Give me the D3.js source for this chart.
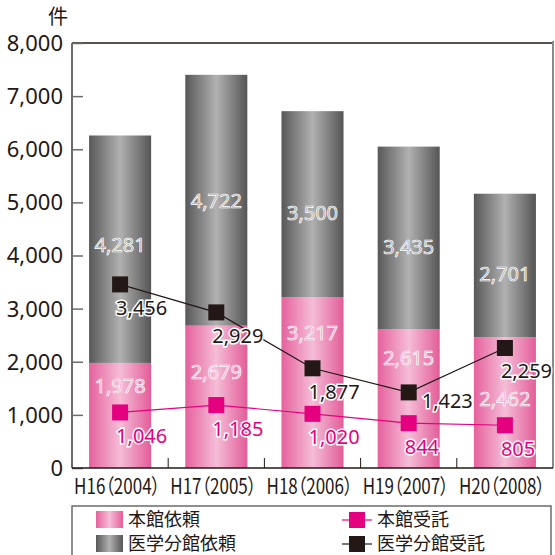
<!DOCTYPE html>
<html lang="ja">
<head>
  <meta charset="UTF-8">
  <title>依頼・受託件数</title>
  <script src="https://d3js.org/d3.v7.min.js"></script>
  <style>
    body { margin: 0; background: #fff; }
    text { font-family: "Noto Sans", "Noto Sans CJK JP", sans-serif; }
    .jp { font-family: "Noto Sans CJK JP", sans-serif; font-feature-settings: "palt"; }
  </style>
</head>
<body>
  <div id="chart"></div>

  <script>
  // data
  var categories = ["H16（2004）", "H17（2005）", "H18（2006）", "H19（2007）", "H20（2008）"];
  var honkanIrai = [1978, 2679, 3217, 2615, 2462];     // 本館依頼
  var igakuIrai = [4281, 4722, 3500, 3435, 2701];      // 医学分館依頼
  var honkanJutaku = [1046, 1185, 1020, 844, 805];     // 本館受託
  var igakuJutaku = [3456, 2929, 1877, 1423, 2259];    // 医学分館受託
  var yTicks = [0, 1000, 2000, 3000, 4000, 5000, 6000, 7000, 8000];

  // label nudges (px) so labels clear the lines
  var pinkShift = [-30, -25, -50, -41, -4];
  var grayShift = [-4, 1, 9, 9, 8];

  var w = 555, h = 555;
  var plotL = 72, plotR = 553, plotT = 43, plotB = 468;

  var pink = "#e4007f", black = "#231815";

  var svg = d3.select("#chart").append("svg")
    .attr("width", w)
    .attr("height", h);

  var defs = svg.append("defs");
  function grad(id, edgeL, mid, edgeR) {
    var g = defs.append("linearGradient").attr("id", id)
      .attr("x1", "0%").attr("x2", "100%").attr("y1", "0%").attr("y2", "0%");
    g.append("stop").attr("offset", "0%").attr("stop-color", edgeL);
    g.append("stop").attr("offset", "50%").attr("stop-color", mid);
    g.append("stop").attr("offset", "100%").attr("stop-color", edgeR);
  }
  grad("gPink", "#e5619d", "#f5bdd7", "#e35d99");
  grad("gGray", "#585858", "#b1b1b1", "#555555");

  var x = d3.scaleBand()
    .domain(categories)
    .range([plotL, plotR])
    .paddingInner(0.355)
    .paddingOuter(0.1775);

  var y = d3.scaleLinear()
    .domain([0, 8000])
    .range([plotB, plotT]);

  var rows = categories.map(function(c, i) {
    return { cat: c, honkan: honkanIrai[i], igaku: igakuIrai[i] };
  });
  var series = d3.stack().keys(["honkan", "igaku"])(rows);

  // bars
  svg.selectAll("g.layer")
    .data(series)
    .enter().append("g")
    .attr("class", "layer")
    .attr("fill", function(d, i) { return i === 0 ? "url(#gPink)" : "url(#gGray)"; })
    .selectAll("rect")
    .data(function(d) { return d; })
    .enter().append("rect")
    .attr("x", function(d) { return x(d.data.cat); })
    .attr("y", function(d) { return y(d[1]); })
    .attr("width", x.bandwidth())
    .attr("height", function(d) { return y(d[0]) - y(d[1]); });

  // frame
  svg.append("line").attr("x1", plotL).attr("x2", plotR).attr("y1", plotT).attr("y2", plotT)
    .attr("stroke", black).attr("stroke-width", 1.5);
  svg.append("line").attr("x1", plotR).attr("x2", plotR).attr("y1", plotT - 2).attr("y2", plotB)
    .attr("stroke", "#8a8a8a").attr("stroke-width", 2);

  // y axis
  var yAxis = svg.append("g")
    .attr("transform", "translate(" + plotL + ",0)")
    .call(d3.axisRight(y).tickValues(yTicks).tickSize(11).tickFormat(""));
  yAxis.select(".domain").remove();
  yAxis.selectAll(".tick line").attr("stroke", "#6b6b6b").attr("stroke-width", 1.5);
  svg.append("line").attr("x1", plotL).attr("x2", plotL).attr("y1", plotT).attr("y2", plotB)
    .attr("stroke", "#6b6b6b").attr("stroke-width", 2);

  svg.append("g").selectAll("text")
    .data(yTicks)
    .enter().append("text")
    .attr("x", 63)
    .attr("y", function(d) { return y(d); })
    .attr("dy", "0.36em")
    .attr("text-anchor", "end")
    .attr("font-size", 22)
    .attr("fill", black)
    .text(d3.format(","));

  svg.append("text")
    .attr("class", "jp")
    .attr("x", 58).attr("y", 17).attr("dy", "0.36em")
    .attr("text-anchor", "middle")
    .attr("font-size", 20)
    .attr("fill", black)
    .text("件");

  // x axis
  svg.append("line").attr("x1", plotL).attr("x2", plotR).attr("y1", plotB).attr("y2", plotB)
    .attr("stroke", black).attr("stroke-width", 1.5);
  svg.append("g").selectAll("line")
    .data(categories.slice(1))
    .enter().append("line")
    .attr("x1", function(d) { return x(d) - x.step() * x.paddingInner() / 2; })
    .attr("x2", function(d) { return x(d) - x.step() * x.paddingInner() / 2; })
    .attr("y1", plotB - 10).attr("y2", plotB)
    .attr("stroke", black).attr("stroke-width", 1);

  svg.append("g").selectAll("text")
    .data(categories)
    .enter().append("text")
    .attr("class", "jp")
    .attr("x", function(d) { return x(d) + x.bandwidth() / 2 - 3; })
    .attr("y", 486)
    .attr("dy", "0.36em")
    .attr("text-anchor", "middle")
    .attr("font-size", 21)
    .attr("textLength", 86)
    .attr("lengthAdjust", "spacingAndGlyphs")
    .attr("fill", black)
    .text(function(d) { return d; });

  // bar labels
  var cx = function(i) { return x(categories[i]) + x.bandwidth() / 2; };
  svg.append("g").selectAll("text")
    .data(honkanIrai)
    .enter().append("text")
    .attr("x", function(d, i) { return cx(i); })
    .attr("y", function(d, i) { return y(d / 2) + pinkShift[i]; })
    .attr("dy", "0.36em")
    .attr("text-anchor", "middle")
    .attr("font-size", 20)
    .attr("fill", "#f19ec4")
    .attr("stroke", "#fff").attr("stroke-width", 0.7)
    .text(d3.format(","));

  svg.append("g").selectAll("text")
    .data(igakuIrai)
    .enter().append("text")
    .attr("x", function(d, i) { return cx(i); })
    .attr("y", function(d, i) { return y(honkanIrai[i] + d / 2) + grayShift[i]; })
    .attr("dy", "0.36em")
    .attr("text-anchor", "middle")
    .attr("font-size", 20)
    .attr("fill", "#a5a5a5")
    .attr("stroke", "#fff").attr("stroke-width", 0.7)
    .text(d3.format(","));

  // lines with square markers
  function drawLine(values, color) {
    var line = d3.line()
      .x(function(d, i) { return cx(i); })
      .y(function(d) { return y(d); });
    svg.append("path")
      .datum(values)
      .attr("fill", "none")
      .attr("stroke", color)
      .attr("stroke-width", 1.2)
      .attr("d", line);
    svg.append("g").selectAll("rect")
      .data(values)
      .enter().append("rect")
      .attr("x", function(d, i) { return cx(i) - 8; })
      .attr("y", function(d) { return y(d) - 8; })
      .attr("width", 16).attr("height", 16)
      .attr("fill", color);
  }
  drawLine(honkanJutaku, pink);
  drawLine(igakuJutaku, black);

  function lineLabels(values, color, special) {
    svg.append("g").selectAll("text")
      .data(values)
      .enter().append("text")
      .attr("x", function(d, i) { return cx(i) - 4 + (special[i] ? special[i][0] : 0); })
      .attr("y", function(d) { return y(d) + 23; })
      .attr("dy", function(d, i) { return special[i] ? special[i][1] : 0; })
      .attr("dominant-baseline", "central")
      .attr("font-size", 20)
      .attr("fill", color)
      .attr("stroke", "#fff").attr("stroke-width", 3)
      .attr("paint-order", "stroke")
      .text(d3.format(","));
  }
  lineLabels(honkanJutaku, pink, {});
  lineLabels(igakuJutaku, black, { 3: [17, -15] });

  // legend
  var lg = svg.append("g");
  lg.append("rect")
    .attr("x", 72).attr("y", 506).attr("width", 479).attr("height", 60)
    .attr("fill", "none").attr("stroke", "#6b6b6b").attr("stroke-width", 1.5);

  var legendBars = [
    { name: "本館依頼", fill: "url(#gPink)" },
    { name: "医学分館依頼", fill: "url(#gGray)" }
  ];
  var legendLines = [
    { name: "本館受託", color: pink },
    { name: "医学分館受託", color: black }
  ];

  legendBars.forEach(function(d, i) {
    var yy = 520 + i * 24;
    lg.append("rect").attr("x", 96).attr("y", yy - 9).attr("width", 27).attr("height", 17)
      .attr("fill", d.fill);
    lg.append("text").attr("class", "jp")
      .attr("x", 128).attr("y", yy).attr("dy", "0.36em")
      .attr("font-size", 18).attr("fill", black).text(d.name);
  });
  legendLines.forEach(function(d, i) {
    var yy = 520 + i * 24;
    lg.append("line").attr("x1", 342).attr("x2", 372).attr("y1", yy).attr("y2", yy)
      .attr("stroke", d.color).attr("stroke-width", 1.2);
    lg.append("rect").attr("x", 349).attr("y", yy - 8).attr("width", 16).attr("height", 16)
      .attr("fill", d.color);
    lg.append("text").attr("class", "jp")
      .attr("x", 377).attr("y", yy).attr("dy", "0.36em")
      .attr("font-size", 18).attr("fill", black).text(d.name);
  });
  </script>
</body>
</html>
